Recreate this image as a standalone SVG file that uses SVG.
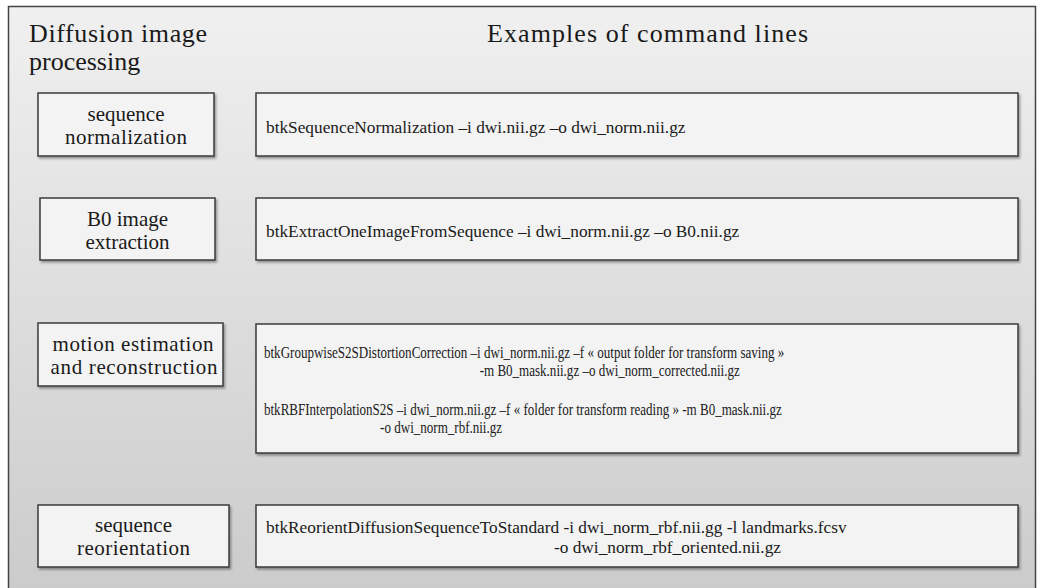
<svg xmlns="http://www.w3.org/2000/svg" width="1037" height="588" viewBox="0 0 1037 588">
<defs>
<linearGradient id="bg" x1="0" y1="0" x2="0" y2="1">
<stop offset="0" stop-color="#f0f0f0"/>
<stop offset="1" stop-color="#cbcbcb"/>
</linearGradient>
<filter id="sh" x="-5%" y="-10%" width="115%" height="130%">
<feDropShadow dx="1.5" dy="2" stdDeviation="1.2" flood-color="#000" flood-opacity="0.35"/>
</filter>
<style>
.box{fill:#f3f3f3;stroke:#3a3a3a;stroke-width:1.5;filter:url(#sh)}
.title{font-size:26px;fill:#1a1a1a}
.lbl{font-size:21px;fill:#1a1a1a;text-anchor:middle}
.cmd{font-size:17.3px;fill:#1a1a1a}
.cmds{font-size:16.5px;fill:#1a1a1a}
</style>
</defs>
<rect x="8.5" y="6.5" width="1027" height="590" fill="url(#bg)" stroke="#444" stroke-width="1.5"/>
<g font-family="Liberation Serif, Times New Roman, DejaVu Serif, serif">
<g id="headers">
<text class="title" x="29" y="42" textLength="178">Diffusion image</text>
<text class="title" x="29" y="70">processing</text>
<text class="title" x="487" y="42" textLength="321">Examples of command lines</text>
</g>
<g id="node-seqnorm">
<rect class="box" x="38" y="93" width="176" height="63"/>
<text class="lbl" x="126" y="121">sequence</text>
<text class="lbl" x="126" y="144" textLength="122">normalization</text>
</g>
<g id="cmd-seqnorm">
<rect class="box" x="256" y="93" width="762" height="63"/>
<text class="cmd" x="266" y="133">btkSequenceNormalization –i dwi.nii.gz –o dwi_norm.nii.gz</text>
</g>
<g id="node-b0">
<rect class="box" x="40" y="198" width="175" height="62"/>
<text class="lbl" x="127.5" y="226">B0 image</text>
<text class="lbl" x="127.5" y="249">extraction</text>
</g>
<g id="cmd-b0">
<rect class="box" x="256" y="198" width="762" height="62"/>
<text class="cmd" x="266" y="237">btkExtractOneImageFromSequence –i dwi_norm.nii.gz –o B0.nii.gz</text>
</g>
<g id="node-motion">
<rect class="box" x="38" y="323" width="185" height="63"/>
<text class="lbl" x="133" y="351" textLength="161">motion estimation</text>
<text class="lbl" x="134" y="374" textLength="167">and reconstruction</text>
</g>
<g id="cmd-motion">
<rect class="box" x="256" y="324" width="762" height="129"/>
<g transform="translate(264 0) scale(0.79 1) translate(-264 0)">
<text class="cmds" x="264" y="358">btkGroupwiseS2SDistortionCorrection –i dwi_norm.nii.gz –f « output folder for transform saving »</text>
<text class="cmds" x="537" y="376">-m B0_mask.nii.gz –o dwi_norm_corrected.nii.gz</text>
<text class="cmds" x="264" y="415">btkRBFInterpolationS2S –i dwi_norm.nii.gz –f « folder for transform reading » -m B0_mask.nii.gz</text>
<text class="cmds" x="411" y="433">-o dwi_norm_rbf.nii.gz</text>
</g>
</g>
<g id="node-reorient">
<rect class="box" x="38" y="505" width="191" height="62"/>
<text class="lbl" x="133.5" y="532">sequence</text>
<text class="lbl" x="133.5" y="555" textLength="113">reorientation</text>
</g>
<g id="cmd-reorient">
<rect class="box" x="256" y="505" width="762" height="62"/>
<text class="cmd" x="266" y="533">btkReorientDiffusionSequenceToStandard -i dwi_norm_rbf.nii.gg -l landmarks.fcsv</text>
<text class="cmd" x="554" y="553">-o dwi_norm_rbf_oriented.nii.gz</text>
</g>
</g>
</svg>
